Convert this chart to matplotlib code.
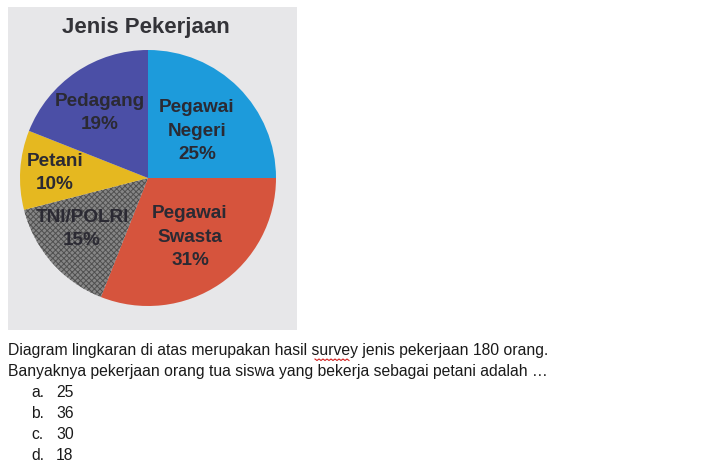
import matplotlib
matplotlib.use("Agg")
import matplotlib.pyplot as plt
import numpy as np

# ---- data ----
categories = ["Pegawai\nNegeri", "Pegawai\nSwasta", "TNI/POLRI", "Petani", "Pedagang"]
percentages = [25, 31, 15, 10, 19]
title = "Jenis Pekerjaan"
question_lines = [
    "Diagram lingkaran di atas merupakan hasil survey jenis pekerjaan 180 orang.",
    "Banyaknya pekerjaan orang tua siswa yang bekerja sebagai petani adalah \u2026",
]
option_letters = ["a.", "b.", "c.", "d."]
option_values = ["25", "36", "30", "18"]

# ---- style ----
colors = ["#1d9bdb", "#d6543d", "#868686", "#e5b820", "#4b4fa6"]
hatches = [None, None, "xxxxxx", None, None]
text_color = "#2b2a33"

W, H = 718, 465
fig = plt.figure(figsize=(W / 100, H / 100), dpi=100)
fig.patch.set_facecolor("white")

def fx(px):
    return px / W

def fy(py):
    return 1 - py / H

# photo background
bg = fig.add_axes([fx(8), fy(330), fx(297) - fx(8), fy(7) - fy(330)], zorder=0)
bg.set_facecolor("#e7e7e9")
bg.set_xticks([]); bg.set_yticks([])
for s in bg.spines.values():
    s.set_visible(False)

# pie axes (center 148,178 radius 128 px)
cx, cy, r = 148, 178, 128
ax = fig.add_axes([fx(cx - r), fy(cy + r), 2 * r / W, 2 * r / H], zorder=1)
plt.rcParams["hatch.linewidth"] = 0.7
wedges, _ = ax.pie(percentages, colors=colors, startangle=90, counterclock=False,
                   radius=1, wedgeprops=dict(linewidth=0))
ax.set_xlim(-1, 1)
ax.set_ylim(-1, 1)
ax.axis("off")
for w, h in zip(wedges, hatches):
    if h:
        w.set_hatch(h)
        w.set_edgecolor("#505050")
        w.set_linewidth(0)

# label positions in pixels (layout)
label_pos = [(197, 131), (190, 237), (82, 229), (55, 173), (100, 113)]
for cat, pct, (px, py) in zip(categories, percentages, label_pos):
    ax.text((px - cx) / r, (cy - py) / r, f"{cat}\n{pct}%", ha="center", va="center",
            fontsize=13.6, fontweight="bold", color=text_color,
            family="Liberation Sans", linespacing=1.5)

fig.text(fx(146), fy(28), title, ha="center", va="center", fontsize=16,
         fontweight="bold", color="#333338", family="Liberation Sans", zorder=3)

# question text
fs = 11.3
ys = [350, 371]
for line, y in zip(question_lines, ys):
    fig.text(fx(8), fy(y), line, ha="left", va="center", fontsize=fs,
             color="#1a1a1a", family="Liberation Sans")
for i, (l, v) in enumerate(zip(option_letters, option_values)):
    y = 392 + i * 21
    fig.text(fx(31), fy(y), l, ha="left", va="center", fontsize=fs,
             color="#1a1a1a", family="Liberation Sans")
    fig.text(fx(56), fy(y), v, ha="left", va="center", fontsize=fs,
             color="#1a1a1a", family="Liberation Sans")

# red wavy underline under "survey"
xs = np.arange(315, 350, 2)
yw = 359 + np.where(np.arange(len(xs)) % 2 == 0, 0, 1.5)
fig.add_artist(plt.Line2D(fx(xs), fy(yw), color="#d22020", linewidth=0.8,
                          transform=fig.transFigure))

fig.savefig("out.png", dpi=100)
